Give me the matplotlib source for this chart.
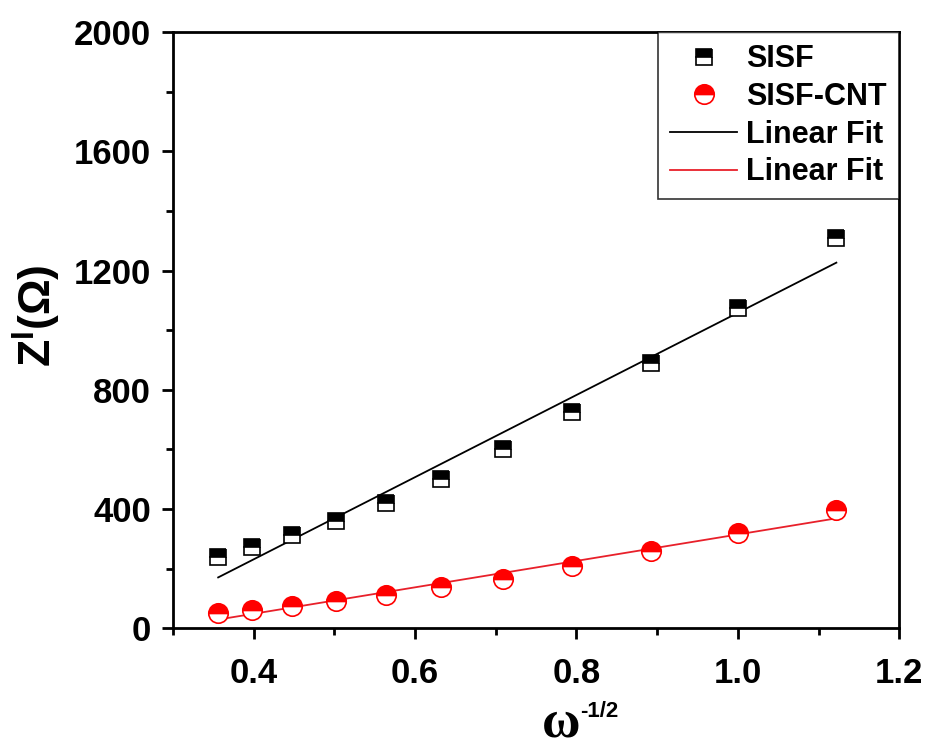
import matplotlib
matplotlib.use("Agg")
import matplotlib.pyplot as plt
import numpy as np

plt.rcParams['font.family'] = ['Liberation Sans', 'DejaVu Sans']
plt.rcParams['font.weight'] = 'bold'
plt.rcParams['mathtext.fontset'] = 'custom'
plt.rcParams['mathtext.bf'] = 'Liberation Sans:bold'
plt.rcParams['mathtext.rm'] = 'Liberation Sans:bold'

# omega^-1/2 values
x = [0.356, 0.398, 0.447, 0.502, 0.564, 0.632, 0.709, 0.795, 0.892, 1.0, 1.122]
# Z' (ohm)
z_sisf = [239, 273, 312, 360, 420, 500, 601, 725, 889, 1074, 1309]
z_cnt = [50, 60, 74, 92, 111, 138, 166, 208, 259, 318, 396]

fig = plt.figure(figsize=(9.3, 7.47), dpi=100)
ax = fig.add_axes([0.186, 0.159, 0.781, 0.798])

ax.plot(x, z_sisf, 's', ms=12, mec='black', mfc='black', mew=1.2,
        fillstyle='top', markerfacecoloralt='white', label='SISF', zorder=3)
ax.plot(x, z_cnt, 'o', ms=14, mec='red', mfc='red', mew=1.2,
        fillstyle='top', markerfacecoloralt='white', label='SISF-CNT', zorder=3)

xs = np.array([x[0], x[-1]])
k1, b1 = np.polyfit(x, z_sisf, 1)
k2, b2 = np.polyfit(x, z_cnt, 1)
ax.plot(xs, k1 * xs + b1, color='black', lw=1.3, label='Linear Fit')
ax.plot(xs, k2 * xs + b2, color='#e8202a', lw=1.3, label='Linear Fit')

ax.set_xlim(0.3, 1.2)
ax.set_ylim(0, 2000)
ax.set_xticks([0.4, 0.6, 0.8, 1.0, 1.2])
ax.set_xticks(np.arange(0.3, 1.21, 0.1), minor=True)
ax.set_yticks(np.arange(0, 2001, 400))
ax.set_yticks(np.arange(0, 2001, 200), minor=True)
ax.set_xticklabels(['0.4', '0.6', '0.8', '1.0', '1.2'])

for s in ax.spines.values():
    s.set_linewidth(2)
ax.tick_params(which='major', direction='out', length=8, width=2,
               labelsize=25, pad=8)
ax.tick_params(which='minor', direction='out', length=5, width=2)
ax.tick_params(axis='x', which='major', pad=13)

# x label: omega with a small -1/2 superscript
fig.text(0.603, 0.014, 'ω', fontsize=38, fontfamily='Liberation Serif',
         fontweight='bold', ha='center', va='baseline')
fig.text(0.624, 0.04, '-1/2', fontsize=16, fontweight='bold',
         ha='left', va='baseline')

ax.set_ylabel(r'$\mathbf{Z^{I}(\Omega)}$', fontsize=32)
ax.yaxis.set_label_coords(-0.152, 0.525)

leg = ax.legend(loc='upper right', fontsize=22, frameon=True, fancybox=False,
                edgecolor='black', borderaxespad=0, handlelength=2.2,
                borderpad=0.4, labelspacing=0.25, handletextpad=0.3)
leg.get_frame().set_linewidth(1.2)
for t in leg.get_texts():
    t.set_fontweight('bold')

fig.savefig('out.png', dpi=100)
